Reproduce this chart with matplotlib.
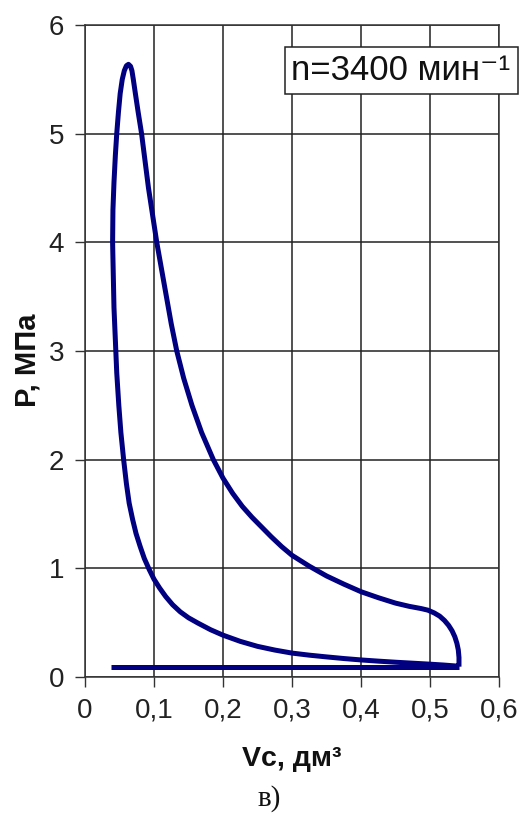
import numpy as np
import matplotlib
matplotlib.use("Agg")
from matplotlib import pyplot as plt

# Indicator diagram of one engine cycle, n = 3400 rpm
# intake line (constant pressure)
vc_intake = [0.038, 0.542]
p_intake = [0.095, 0.095]

# compression, combustion and expansion, traced from BDC round the loop
vc_loop = [0.540, 0.520, 0.500, 0.475, 0.450, 0.425, 0.400, 0.375, 0.350, 0.325,
           0.300, 0.275, 0.250, 0.225, 0.200, 0.182, 0.164, 0.150, 0.138, 0.127,
           0.117, 0.108, 0.100, 0.093, 0.086, 0.080, 0.074, 0.069, 0.064, 0.060,
           0.056, 0.052, 0.049, 0.046, 0.044, 0.042, 0.041, 0.040, 0.0405, 0.042,
           0.044, 0.046, 0.0485, 0.051, 0.054, 0.057, 0.060, 0.063, 0.066, 0.068,
           0.070, 0.073, 0.077, 0.082, 0.087, 0.092, 0.098, 0.104, 0.111, 0.118,
           0.125, 0.133, 0.143, 0.155, 0.169, 0.186, 0.200, 0.214, 0.228, 0.242,
           0.256, 0.270, 0.285, 0.300, 0.325, 0.350, 0.375, 0.400, 0.425, 0.450,
           0.470, 0.487, 0.497, 0.506, 0.514, 0.521, 0.527, 0.532, 0.536, 0.539,
           0.541, 0.542, 0.542]
p_loop = [0.100, 0.110, 0.118, 0.127, 0.136, 0.146, 0.157, 0.170, 0.185, 0.201,
          0.220, 0.248, 0.282, 0.328, 0.385, 0.435, 0.495, 0.545, 0.600, 0.665,
          0.740, 0.820, 0.900, 0.990, 1.090, 1.200, 1.320, 1.450, 1.600, 1.780,
          2.000, 2.250, 2.500, 2.800, 3.100, 3.400, 3.700, 4.000, 4.300, 4.550,
          4.800, 5.000, 5.200, 5.370, 5.500, 5.580, 5.625, 5.638, 5.620, 5.580,
          5.500, 5.370, 5.200, 5.000, 4.750, 4.500, 4.250, 4.000, 3.750, 3.500,
          3.250, 3.000, 2.750, 2.500, 2.250, 2.000, 1.830, 1.690, 1.570, 1.470,
          1.380, 1.290, 1.200, 1.120, 1.020, 0.930, 0.855, 0.785, 0.730, 0.680,
          0.650, 0.630, 0.615, 0.590, 0.560, 0.520, 0.475, 0.425, 0.370, 0.310,
          0.250, 0.180, 0.095]

x_ticks = [0, 0.1, 0.2, 0.3, 0.4, 0.5, 0.6]
x_tick_labels = ['0', '0,1', '0,2', '0,3', '0,4', '0,5', '0,6']
y_ticks = [0, 1, 2, 3, 4, 5, 6]
y_tick_labels = ['0', '1', '2', '3', '4', '5', '6']

speed_label = 'n=3400 мин⁻¹'
x_label = 'Vc, дм³'
y_label = 'P, МПа'
panel_label = 'в)'

plt.rcParams['font.family'] = ['Liberation Sans', 'DejaVu Sans']

W, H = 529, 816
fig = plt.figure(figsize=(W / 100, H / 100), dpi=100)
ax = fig.add_axes([85 / W, 1 - 677 / H, (499 - 85) / W, (677 - 25) / H])

line_kw = dict(color='#000080', lw=3.6, solid_joinstyle='round',
               solid_capstyle='butt', zorder=3)
ax.plot(vc_intake, p_intake, **line_kw)
ax.plot(vc_loop, p_loop, **line_kw)

ax.set_xlim(0, 0.6)
ax.set_ylim(0, 6)
ax.set_xticks(x_ticks)
ax.set_xticklabels(x_tick_labels)
ax.set_yticks(y_ticks)
ax.set_yticklabels(y_tick_labels)
ax.tick_params(direction='out', length=7, width=1.0, color='#333333',
               labelsize=20, labelcolor='#222222', pad=8)

ax.grid(True, color='#222222', lw=1.1)
ax.set_axisbelow(True)
for s in ax.spines.values():
    s.set_color('#333333')
    s.set_linewidth(1.1)

ax.text(0.458, 5.585, speed_label, fontsize=25, color='#111111',
        ha='center', va='center', zorder=5,
        bbox=dict(boxstyle='square,pad=0.2', fc='white', ec='#222222', lw=1.1))

fig.text(27 / W, 1 - 360 / H, y_label, rotation=90, fontsize=21,
         fontweight='bold', ha='center', va='center', color='#111111')
fig.text(292 / W, 1 - 766 / H, x_label, fontsize=20.5, fontweight='bold',
         ha='center', va='baseline', color='#111111')
fig.text(269 / W, 1 - 806 / H, panel_label, fontsize=21,
         family='Liberation Serif', ha='center', va='baseline', color='#111111')

fig.savefig('out.png', dpi=100)
